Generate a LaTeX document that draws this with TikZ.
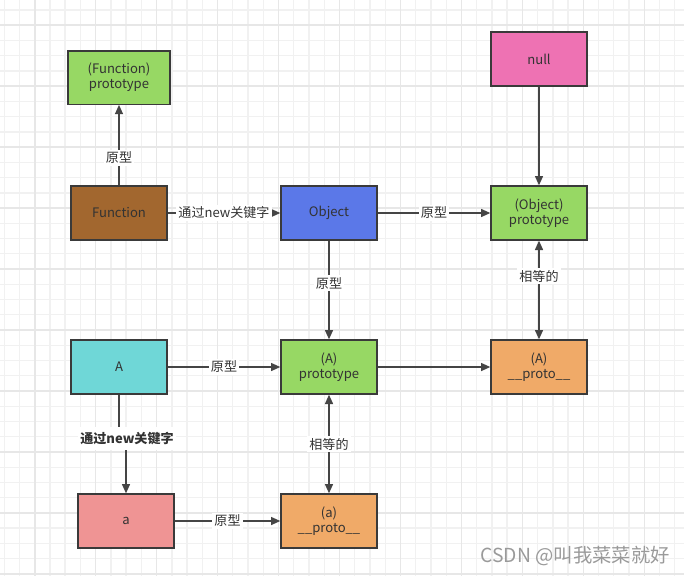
\documentclass[tikz,border=0pt]{standalone}
\usepackage{fontspec}
\setmainfont{Noto Sans CJK SC}
\usetikzlibrary{arrows.meta}

\definecolor{protogreen}{HTML}{97D864}
\definecolor{fnbrown}{HTML}{A2672F}
\definecolor{objblue}{HTML}{5B78E8}
\definecolor{nullpink}{HTML}{EE72B3}
\definecolor{ctorcyan}{HTML}{6FD7D7}
\definecolor{dunderorange}{HTML}{F0AA68}
\definecolor{instsalmon}{HTML}{EF9494}
\definecolor{boxline}{HTML}{3A3A3A}
\definecolor{edgegrey}{HTML}{454545}
\definecolor{textgrey}{HTML}{333333}
\definecolor{gridminor}{HTML}{F1F1F1}
\definecolor{gridmajor}{HTML}{E7E7E7}
\definecolor{markgrey}{HTML}{9A9A9A}

\begin{document}
\begin{tikzpicture}[x=0.75pt,y=-0.75pt,
  >={Triangle[length=7pt,width=6pt]},
  box/.style={draw=boxline,line width=1pt,minimum width=72pt,minimum height=40.5pt,
    align=center,text=textgrey,inner sep=1pt,font=\fontsize{9.8}{11.5}\selectfont},
  edge/.style={draw=edgegrey,line width=1.1pt,->},
  same/.style={draw=edgegrey,line width=1.1pt,<->},
  lbl/.style={fill=white,text=textgrey,inner sep=1.5pt,font=\fontsize{9.8}{11.5}\selectfont}]

  % Fix the size of the picture
  \useasboundingbox (0,0) rectangle (684,576);
  \fill[white] (0,0) rectangle (684,576);

  % Draw the background grid
  \foreach \i in {0,...,44}
    \draw[gridminor,line width=1pt] ({4.2+15.24*\i},0) -- ({4.2+15.24*\i},576);
  \foreach \j in {0,...,37}
    \draw[gridminor,line width=1pt] (0,{9.96+15.24*\j}) -- (684,{9.96+15.24*\j});
  \foreach \i in {0,...,10}
    \draw[gridmajor,line width=1.2pt] ({34.7+60.96*\i},0) -- ({34.7+60.96*\i},576);
  \foreach \j in {0,...,9}
    \draw[gridmajor,line width=1.2pt] (0,{25.2+60.96*\j}) -- (684,{25.2+60.96*\j});

  % Top row: Function, Object and null
  \node[box,fill=protogreen,minimum width=76.5pt,minimum height=40pt] (fnproto) at (119,77.5) {(Function)\\prototype};
  \node[box,fill=fnbrown] (function) at (119,213) {Function};
  \node[box,fill=objblue] (object) at (329,213) {Object};
  \node[box,fill=nullpink] (null) at (539,59) {null};
  \node[box,fill=protogreen] (objproto) at (539,213) {(Object)\\prototype};

  % Middle row: constructor A
  \node[box,fill=ctorcyan] (A) at (119,367) {A};
  \node[box,fill=protogreen] (Aproto) at (329,367) {(A)\\prototype};
  \node[box,fill=dunderorange] (Adunder) at (539,367) {(A)\\\_\_proto\_\_};

  % Bottom row: instance a
  \node[box,fill=instsalmon] (a) at (126,521) {a};
  \node[box,fill=dunderorange] (adunder) at (329,521) {(a)\\\_\_proto\_\_};

  % Arrows between the boxes
  \draw[edge] (function) -- node[lbl,pos=0.34] {原型} (fnproto);
  \draw[edge] (function) -- node[lbl] {通过new关键字} (object);
  \draw[edge] (object) -- node[lbl] {原型} (objproto);
  \draw[edge] (null) -- (objproto);
  \draw[edge] (object) -- node[lbl,pos=0.43] {原型} (Aproto);
  \draw[same] (Adunder) -- node[lbl,pos=0.64] {相等的} (objproto);
  \draw[edge] (A) -- node[lbl] {原型} (Aproto);
  \draw[edge] (Aproto) -- (Adunder);
  \draw[edge] (A.south) -- ++(0,44) node[lbl,xshift=6pt,inner ysep=4pt,font=\fontsize{9.8}{11.5}\selectfont\bfseries] {通过new关键字} -| (a.north);
  \draw[same] (Aproto) -- (adunder) node[lbl,midway] {相等的};
  \draw[edge] (a) -- node[lbl] {原型} (adunder);

  % Watermark
  \node[text=markgrey,anchor=east,inner sep=0pt,font=\fontsize{14.5}{16}\selectfont] (mark) at (670,556) {CSDN @叫我菜菜就好};

\end{tikzpicture}
\end{document}
